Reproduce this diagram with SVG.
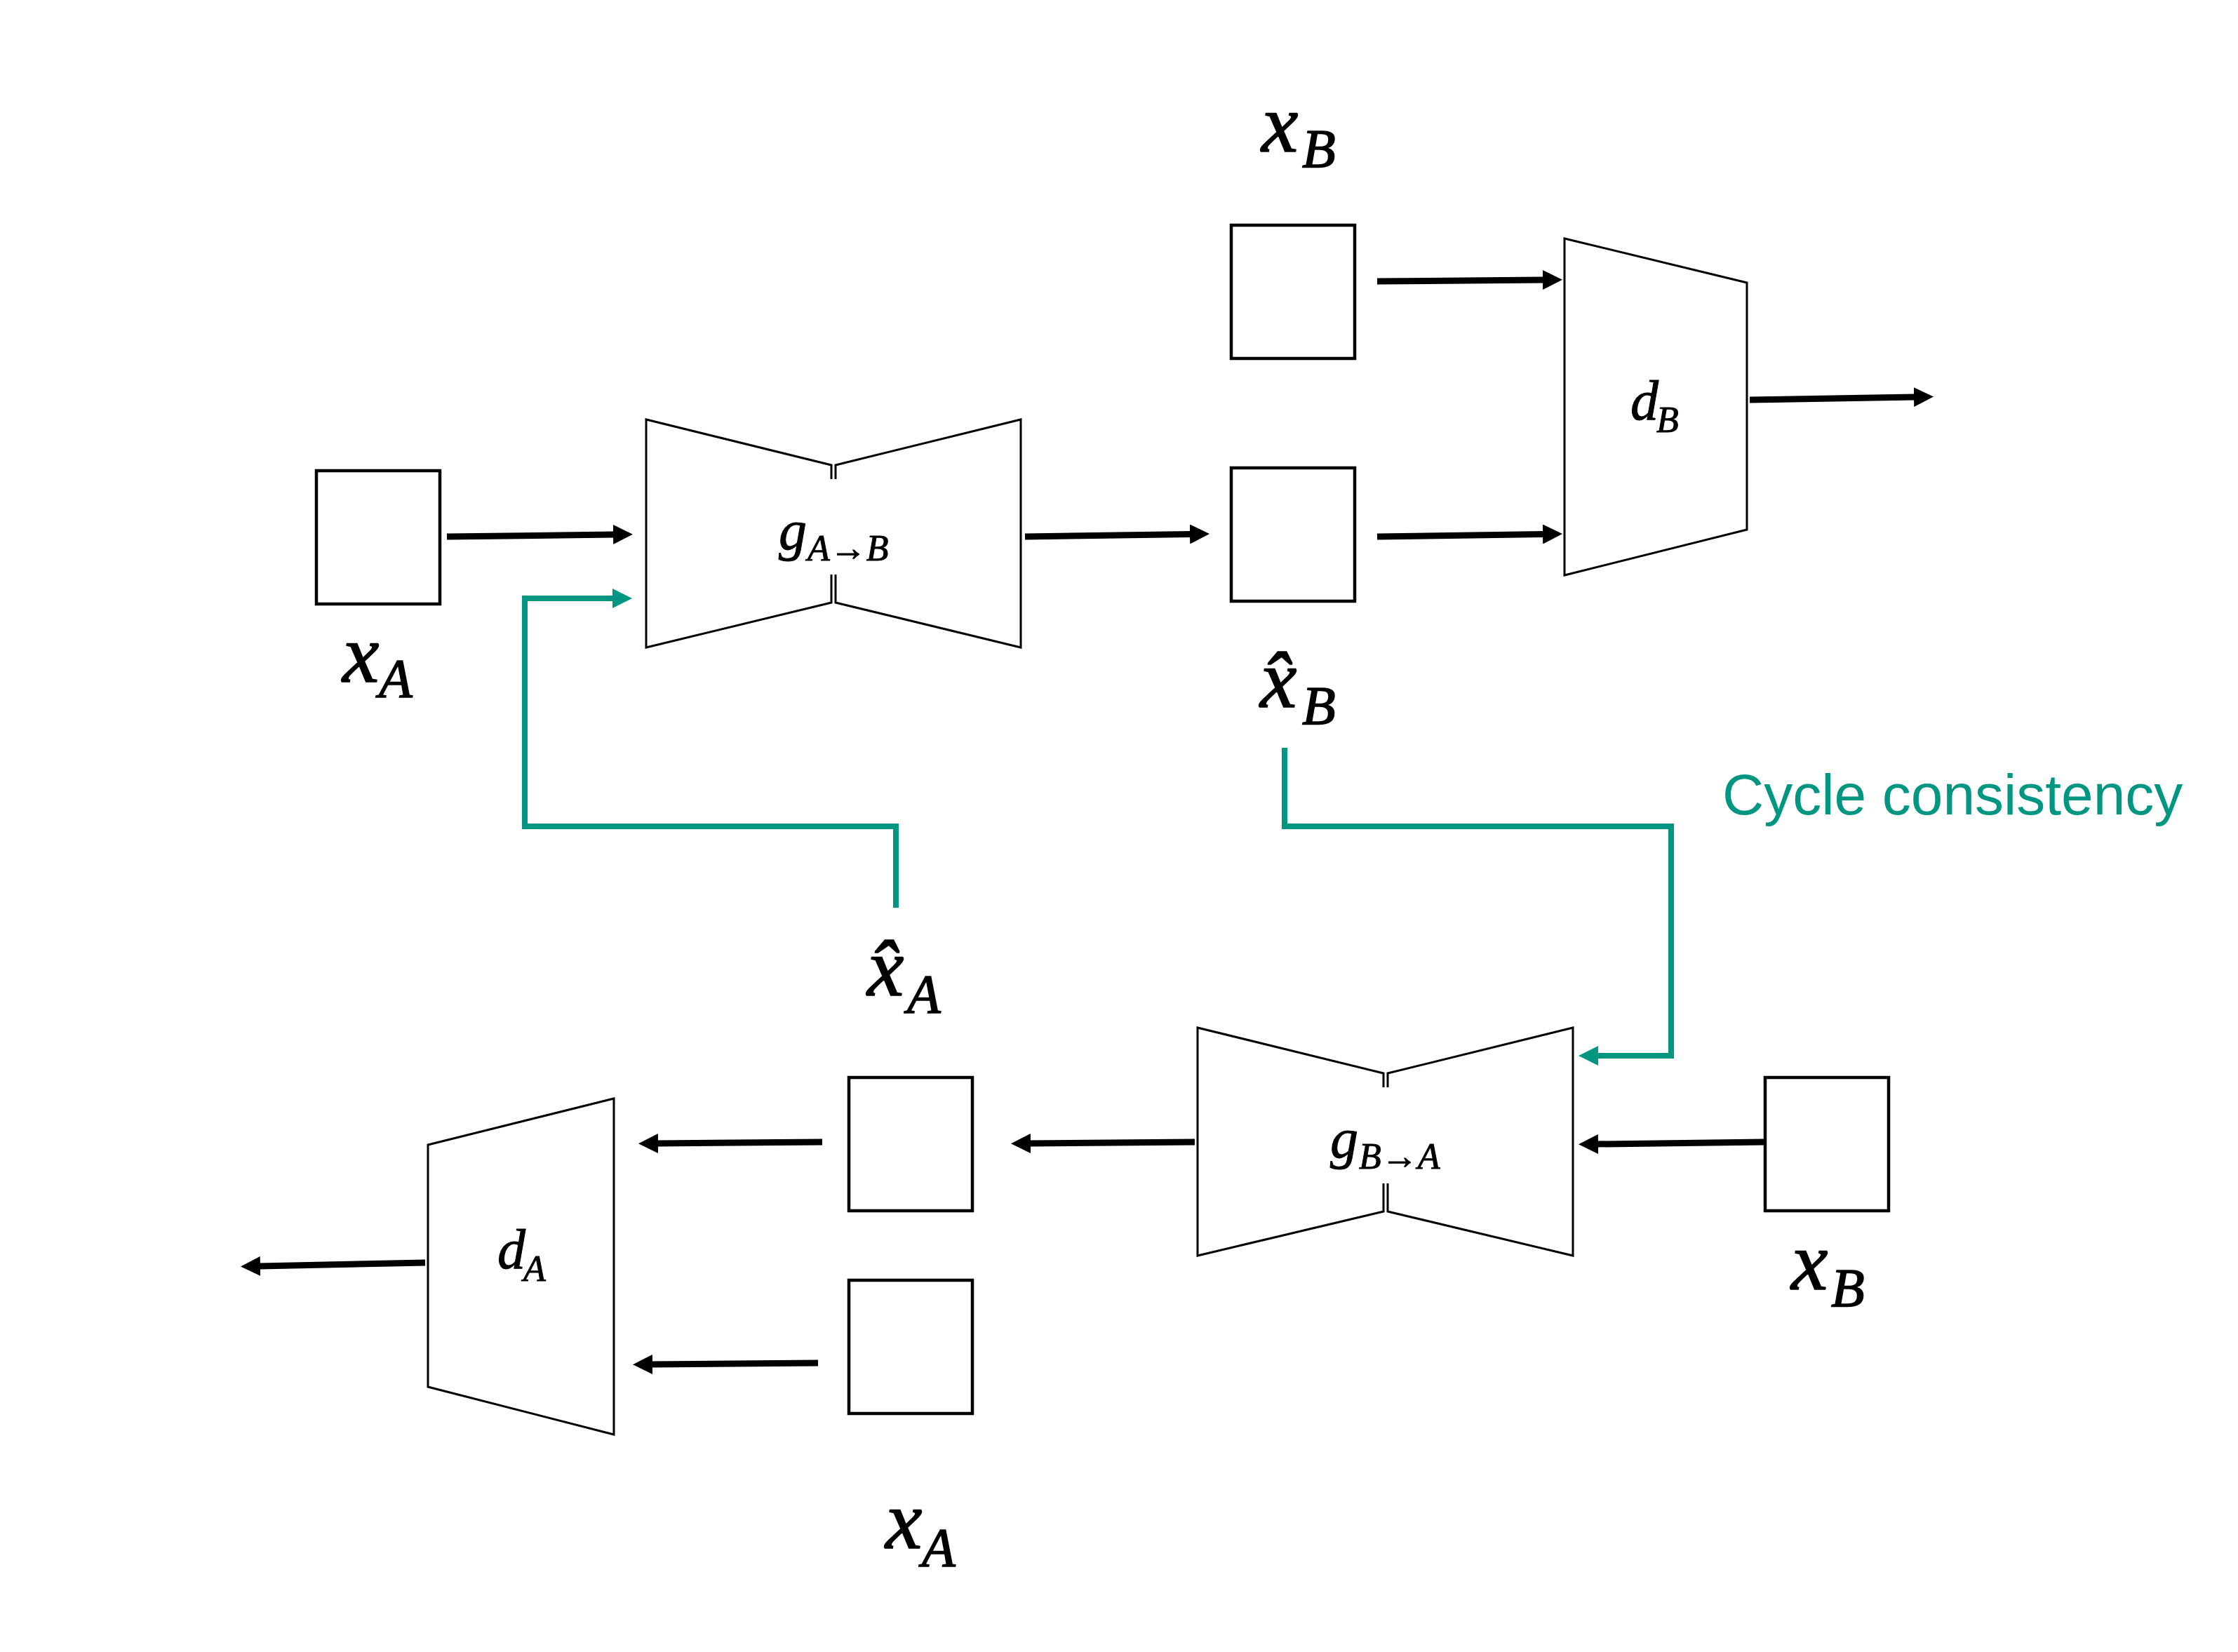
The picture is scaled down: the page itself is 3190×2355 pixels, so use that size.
<svg xmlns="http://www.w3.org/2000/svg" width="3190" height="2355" viewBox="0 0 3190 2355">
<style>
.box{fill:none;stroke:#000;stroke-width:4.5}
.trap{fill:none;stroke:#000;stroke-width:3;stroke-linejoin:miter}
.arr{fill:none;stroke:#000;stroke-width:9;marker-end:url(#ah)}
.cyc{fill:none;stroke:#009682;stroke-width:8;stroke-linejoin:miter;marker-end:url(#aht)}
.lbl{font-family:"Liberation Serif","Times New Roman",serif;font-style:italic;font-size:118px;fill:#000;stroke:#000;stroke-width:1.6}
.sub{font-size:78px}
.in{font-family:"Liberation Serif","Times New Roman",serif;font-style:italic;font-size:80px;fill:#000;stroke:#000;stroke-width:1}
.insub{font-size:52px}
.cap{font-family:"Liberation Sans",Arial,sans-serif;font-size:82px;fill:#009682}
</style>
<defs>
<marker id="ah" markerUnits="userSpaceOnUse" markerWidth="30" markerHeight="28" refX="1" refY="14" orient="auto"><path d="M0,0 L28,14 L0,28 Z" fill="#000"/></marker>
<marker id="aht" markerUnits="userSpaceOnUse" markerWidth="30" markerHeight="28" refX="1" refY="14" orient="auto"><path d="M0,0 L28,14 L0,28 Z" fill="#009682"/></marker>
</defs>
<rect width="3190" height="2355" fill="#fff"/>

<g id="xA_top">
<rect class="box" x="451" y="671" width="176" height="190"/>
<text class="lbl"><tspan x="488" y="972">x</tspan><tspan class="sub" x="540" y="993">A</tspan></text>
</g>
<g id="gAB">
<path class="trap" d="M1185,683 V663 L921,598 V923 L1185,859 V819"/>
<path class="trap" d="M1191,683 V663 L1455,598 V923 L1191,859 V819"/>
<text class="in"><tspan x="1110" y="783">g</tspan><tspan class="insub" x="1151" y="799">A→B</tspan></text>
</g>
<g id="xB_top">
<rect class="box" x="1755" y="321" width="176" height="190"/>
<text class="lbl"><tspan x="1798" y="216">x</tspan><tspan class="sub" x="1856" y="238">B</tspan></text>
</g>
<g id="xhatB">
<rect class="box" x="1755" y="667" width="176" height="190"/>
<text class="lbl"><tspan x="1796" y="1008">x̂</tspan><tspan class="sub" x="1856" y="1032">B</tspan></text>
</g>
<g id="dB">
<path class="trap" d="M2230,340 L2490,403 V755 L2230,820 Z"/>
<text class="in"><tspan x="2324" y="598">d</tspan><tspan class="insub" x="2361" y="616">B</tspan></text>
</g>
<g id="gBA">
<path class="trap" d="M1972,1550 V1530 L1707,1465 V1790 L1972,1727 V1687"/>
<path class="trap" d="M1978,1550 V1530 L2242,1465 V1790 L1978,1727 V1687"/>
<text class="in"><tspan x="1896" y="1650">g</tspan><tspan class="insub" x="1937" y="1666">B→A</tspan></text>
</g>
<g id="xB_low">
<rect class="box" x="2516" y="1536" width="176" height="190"/>
<text class="lbl"><tspan x="2553" y="1838">x</tspan><tspan class="sub" x="2610" y="1862">B</tspan></text>
</g>
<g id="xhatA">
<rect class="box" x="1210" y="1536" width="176" height="190"/>
<text class="lbl"><tspan x="1236" y="1419">x̂</tspan><tspan class="sub" x="1293" y="1443">A</tspan></text>
</g>
<g id="xA_low">
<rect class="box" x="1210" y="1825" width="176" height="190"/>
<text class="lbl"><tspan x="1262" y="2207">x</tspan><tspan class="sub" x="1314" y="2232">A</tspan></text>
</g>
<g id="dA">
<path class="trap" d="M610,1632 L875,1566 V2045 L610,1977 Z"/>
<text class="in"><tspan x="709" y="1808">d</tspan><tspan class="insub" x="746" y="1826">A</tspan></text>
</g>
<g id="cycle_label">
<text class="cap" x="2455" y="1161">Cycle consistency</text>
</g>

<g id="connectors">
<path class="arr" d="M637,765 L875,762"/>
<path class="arr" d="M1461,765 L1697,761.5"/>
<path class="arr" d="M1963,401 L2200,399"/>
<path class="arr" d="M1963,765 L2200,761.5"/>
<path class="arr" d="M2494,570 L2729,566"/>
<path class="arr" d="M2514,1628 L2277,1631"/>
<path class="arr" d="M1703,1628 L1468,1630"/>
<path class="arr" d="M1172,1628 L937,1630"/>
<path class="arr" d="M1166,1943 L929,1945"/>
<path class="arr" d="M606,1800 L370,1805"/>
<path class="cyc" d="M1277,1294 V1178 H748 V853 H874"/>
<path class="cyc" d="M1831,1066 V1178 H2382 V1505 H2277"/>
</g>
</svg>
